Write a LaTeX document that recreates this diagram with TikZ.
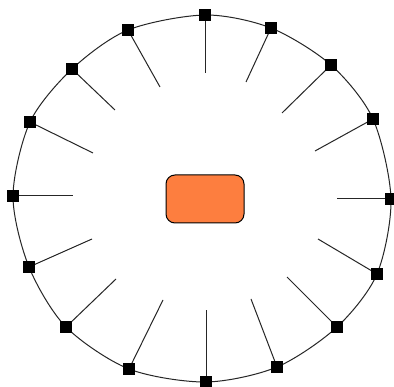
\documentclass[tikz,border=0pt]{standalone}
\usepackage{xcolor}
\usepackage{tikz}
\usetikzlibrary{positioning}
\definecolor{hubOrange}{HTML}{FD7E3F}
\tikzset{
  portSquare/.style={draw=black, fill=black, minimum size=11pt, inner sep=0pt},
  hubBlock/.style={draw=black, line width=1pt, fill=hubOrange, rounded corners=9pt, minimum width=78pt, minimum height=48pt},
  spoke/.style={line width=1pt, black!85},
  rim/.style={line width=1pt, black!85}
}

\begin{document}
\begin{tikzpicture}[x=1pt, y=-1pt]
  \useasboundingbox (0,0) rectangle (394,387);
  \fill[white] (0,0) rectangle (394,387);

  \node[hubBlock] (hub) at (205,199) {};

  % squares on the rim and the inner ends of their spokes
  \foreach \i/\px/\py/\ex/\ey in {
      1/205/15/205/73, 2/271/28/246/82, 3/331/65/282/113, 4/373/119/315/151,
      5/391/199/337/199, 6/377/274/318/239, 7/337/327/287/277, 8/277/367/251/299,
      9/206/382/206/310, 10/129/369/163/300, 11/66/327/116/279, 12/29/267/92/239,
      13/13/196/73/196, 14/30/122/93/153, 15/72/69/115/110, 16/128/30/160/87} {
    \coordinate (p\i) at (\px,\py);
    \coordinate (e\i) at (\ex,\ey);
  }

  \draw[rim] plot[smooth cycle] coordinates {(p1) (p2) (p3) (p4) (p5) (p6) (p7) (p8)
    (p9) (p10) (p11) (p12) (p13) (p14) (p15) (p16)};

  \foreach \i in {1,...,16} {
    \draw[spoke] (p\i) -- (e\i);
    \node[portSquare] (sq\i) at (p\i) {};
  }
\end{tikzpicture}
\end{document}
